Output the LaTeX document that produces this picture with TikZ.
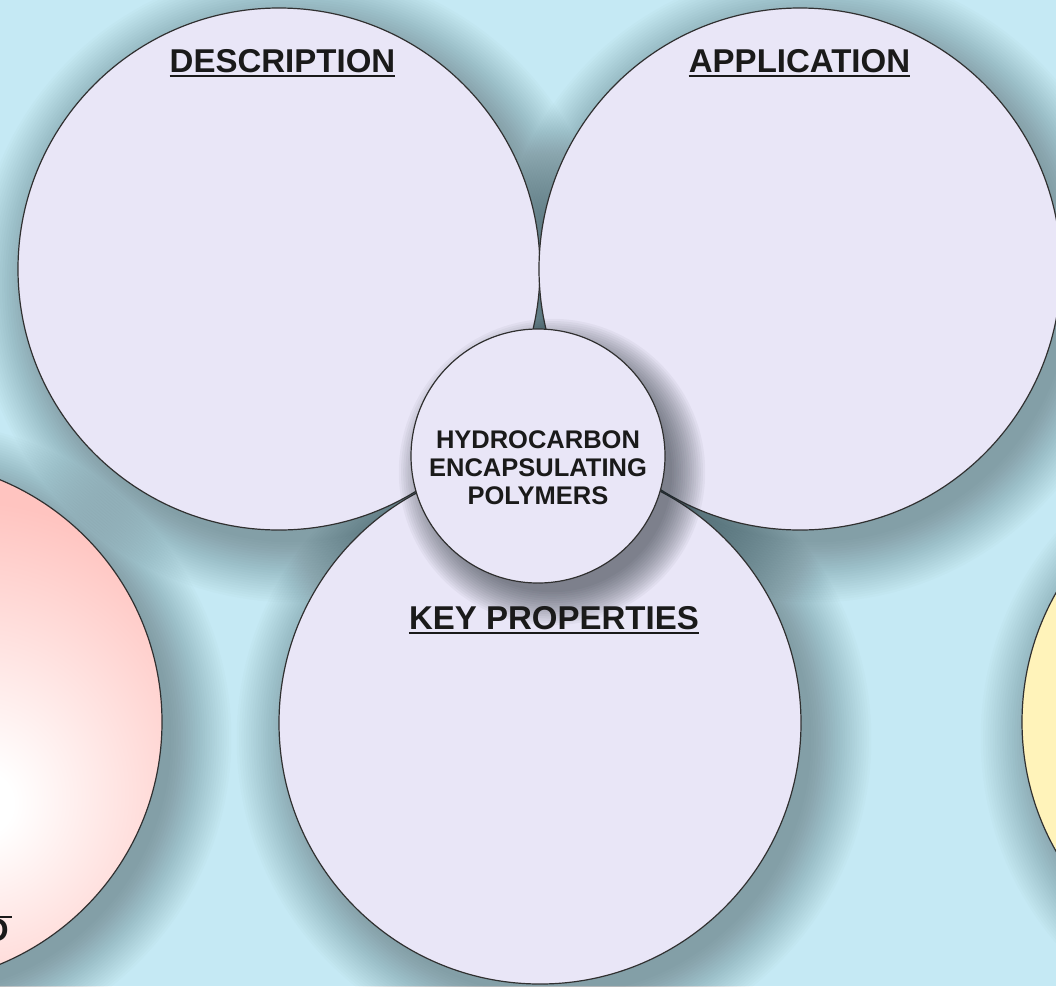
\documentclass[tikz,border=0pt]{standalone}
\usepackage{fontspec}
\setmainfont{Liberation Sans}
\usetikzlibrary{calc}

\definecolor{bgBlue}{HTML}{C5E9F4}
\definecolor{lavFill}{HTML}{E9E6F7}
\definecolor{rimGray}{HTML}{303030}
\definecolor{inkDark}{HTML}{1A1A1A}
\definecolor{shadeDark}{HTML}{1E2A30}
\definecolor{pinkEdge}{HTML}{FFC4C0}
\definecolor{yellowEdge}{HTML}{FFF3BA}

\pgfdeclareradialshading{redGlow}{\pgfpoint{8bp}{-8bp}}{color(0bp)=(white); color(3bp)=(white); color(27bp)=(pinkEdge); color(100bp)=(pinkEdge)}
\pgfdeclareradialshading{yellowGlow}{\pgfpoint{10bp}{0bp}}{color(0bp)=(white); color(6bp)=(white!60!yellowEdge); color(28bp)=(yellowEdge); color(100bp)=(yellowEdge)}

\begin{document}
\begin{tikzpicture}[x=1pt,y=-1pt,
  rim/.style={draw=rimGray, line width=1.2pt},
  padFill/.style={rim, fill=lavFill},
  shadowRing/.style={fill=shadeDark, opacity=0.015},
  coreShadow/.style={fill=shadeDark, opacity=0.045},
  headText/.style={font=\bfseries\fontsize{33}{36}\selectfont, text=inkDark, inner sep=0pt, anchor=base},
  coreText/.style={font=\bfseries\fontsize{25.5}{28}\selectfont, text=inkDark, inner sep=0pt, align=center},
  underRule/.style={line width=2.6pt, draw=inkDark}]

%fix frame
\useasboundingbox (0,0) rectangle (1056,986);
\clip (0,0) rectangle (1056,986);
\fill[bgBlue] (0,0) rectangle (1056,986);

%define coordinates
\coordinate (mDesc) at (279,269);
\coordinate (mAppl) at (800,269);
\coordinate (mProp) at (540,723);
\coordinate (mCore) at (538,456);
\coordinate (mRed) at (-100,722);
\coordinate (mYellow) at (1284,722);

%draw shadows
\foreach \c in {mDesc,mAppl,mProp,mRed,mYellow}
  \foreach \k in {1,...,26}
    \fill[shadowRing] ($(\c)+(14,16)$) circle[radius=255pt+\k*2.4pt];

%draw circles
\draw[padFill] (mDesc) circle[radius=261pt];
\draw[padFill] (mAppl) circle[radius=261pt];
\draw[padFill] (mProp) circle[radius=261pt];
\shade[rim, shading=redGlow] (mRed) circle[radius=262pt];
\shade[rim, shading=yellowGlow] (mYellow) circle[radius=262pt];

%draw core circle
\foreach \k in {1,...,16}
  \fill[coreShadow] ($(mCore)+(14,16)$) circle[radius=118pt+\k*2.2pt];
\draw[padFill] (mCore) circle[radius=127pt];

%draw nodes
\node[coreText] (tCore) at (538,468) {HYDROCARBON\\ENCAPSULATING\\POLYMERS};

\node[headText] (tDesc) at (282.5,72) {DESCRIPTION};
\node[headText] (tAppl) at (799.5,72) {APPLICATION};
\node[headText] (tProp) at (554,629) {KEY PROPERTIES};
\node[headText, anchor=base east] (tFrag) at (9,941) {D};

\draw[underRule] ([yshift=-4pt]tDesc.base west) -- ([yshift=-4pt]tDesc.base east);
\draw[underRule] ([yshift=-4pt]tAppl.base west) -- ([yshift=-4pt]tAppl.base east);
\draw[underRule] ([yshift=-4pt]tProp.base west) -- ([yshift=-4pt]tProp.base east);
\draw[underRule] ([xshift=-40pt,yshift=24pt]tFrag.base east) -- ([xshift=3pt,yshift=24pt]tFrag.base east);

\end{tikzpicture}
\end{document}
